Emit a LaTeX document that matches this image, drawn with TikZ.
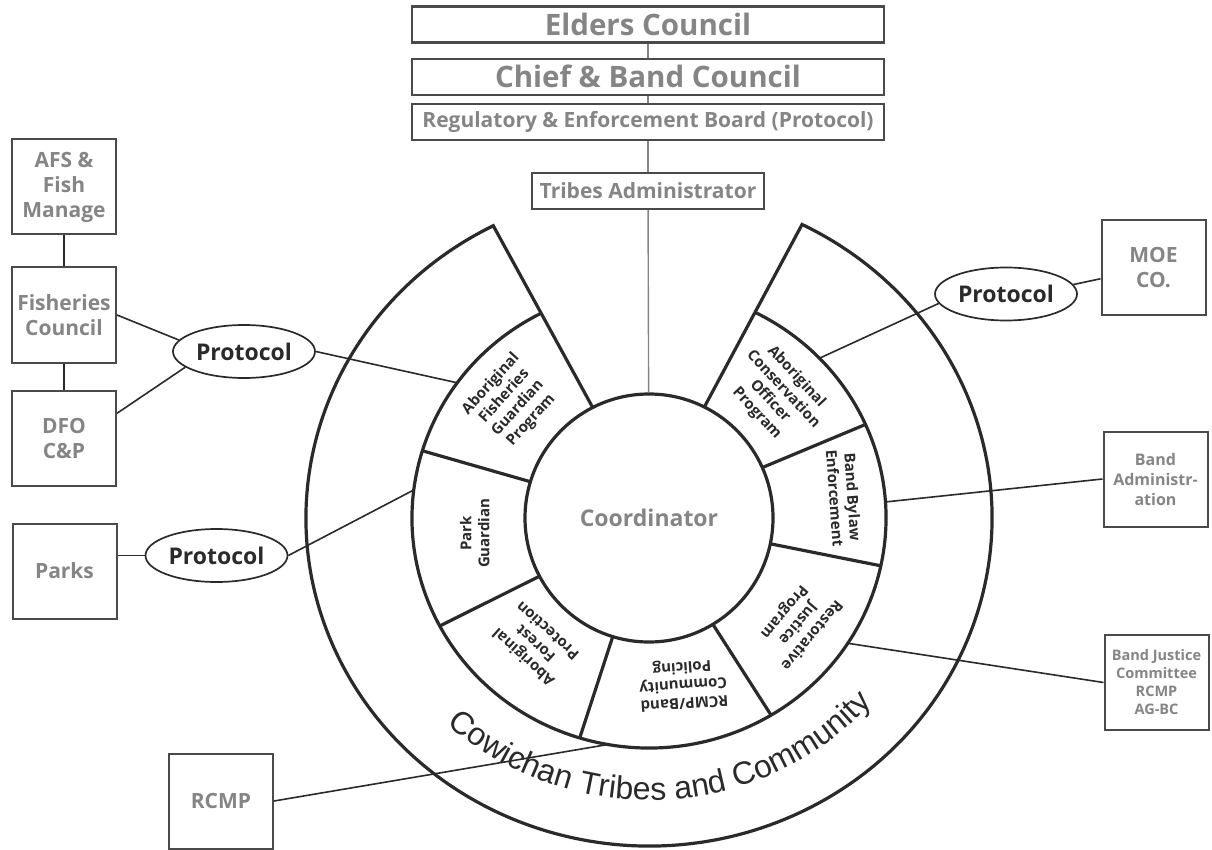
\documentclass[tikz,border=0pt]{standalone}
\usepackage{fontspec}
\setmainfont{Open Sans}
\newfontfamily\ringfont{Liberation Sans}
\usetikzlibrary{positioning,shapes.geometric,calc,decorations.text}

\definecolor{inkdark}{HTML}{2A2A2A}
\definecolor{inkgray}{HTML}{858585}
\definecolor{edgegray}{HTML}{4A4A4A}

\tikzset{
	topbox/.style={draw=edgegray,line width=2.2pt,text=inkgray,minimum width=472pt,minimum height=36pt,inner sep=0pt},
	sidebox/.style={draw=edgegray,line width=2pt,text=inkgray,align=center,minimum width=104pt,minimum height=95pt,inner sep=0pt,font=\bfseries\fontsize{21}{25}\selectfont},
	protocol/.style={ellipse,draw=inkdark,line width=1.7pt,text=inkdark,minimum width=142pt,minimum height=53pt,inner sep=0pt,font=\bfseries\fontsize{23}{26}\selectfont},
	link/.style={draw=inkdark,line width=1.6pt},
	stem/.style={draw=inkgray,line width=1.4pt},
	ring/.style={draw=inkdark,line width=3.2pt},
	seglabel/.style={text=inkdark,align=center,font=\bfseries\fontsize{15}{18}\selectfont}
}

\begin{document}
\begin{tikzpicture}[x=1pt,y=-1pt]
			\useasboundingbox (0,0) rectangle (1212,850);
			\fill[white] (0,0) rectangle (1212,850);
			\coordinate (c) at (649,518);

			% chain of councils
			\node[topbox,font=\bfseries\fontsize{29.5}{32}\selectfont] (elders) at (648,24.5) {Elders Council};
			\node[topbox,font=\bfseries\fontsize{29.5}{32}\selectfont,below=14pt of elders] (chief) {Chief \& Band Council};
			\node[topbox,font=\bfseries\fontsize{21}{24}\selectfont,below=7pt of chief] (board) {Regulatory \& Enforcement Board (Protocol)};
			\node[topbox,minimum width=232pt,font=\bfseries\fontsize{21}{24}\selectfont,below=31pt of board] (admin) {Tribes Administrator};

			% wheel
			\node[circle,draw=inkdark,line width=3.2pt,minimum size=248pt,inner sep=0pt,text=inkgray,font=\bfseries\fontsize{23}{26}\selectfont] (coord) at (c) {Coordinator};
			\draw[ring] ($(c)+(117:124pt)$) -- ($(c)+(117:343pt and 328pt)$) arc[start angle=117,end angle=423.5,x radius=343pt,y radius=328pt] -- ($(c)+(63.5:124pt)$);
			\draw[ring] ($(c)+(117:237pt and 230pt)$) arc[start angle=117,end angle=423.5,x radius=237pt,y radius=230pt];
			\foreach \a in {163,208,253,301,348,24}
				\draw[ring] ($(c)+(\a:124pt)$) -- ($(c)+(\a:237pt and 230pt)$);

			\node[seglabel,rotate=48] (fishguard) at ($(c)+(140:180pt)$) {Aboriginal\\Fisheries\\Guardian\\Program};
			\node[seglabel,rotate=90] (parkguard) at ($(c)+(185:175pt)$) {Park\\Guardian};
			\node[seglabel,rotate=138] (forest) at ($(c)+(228:170pt)$) {Aboriginal\\Forest\\Protection};
			\node[seglabel,rotate=184] (policing) at ($(c)+(281.6:170pt)$) {RCMP/Band\\Community\\Policing};
			\node[seglabel,rotate=230] (restore) at ($(c)+(324.7:182pt)$) {Restorative\\Justice\\Program};
			\node[seglabel,rotate=-86] (bylaw) at ($(c)+(6:196pt)$) {Band Bylaw\\Enforcement};
			\node[seglabel,rotate=-47] (conserve) at ($(c)+(43.9:177pt)$) {Aboriginal\\Conservation\\Officer\\Program};

			\path[decorate,decoration={text along path,text align=center,text color=inkdark,
				text={|\ringfont\fontsize{32}{36}\selectfont|Cowichan Tribes and Community}}]
				($(c)+(183:296pt and 282pt)$) arc[start angle=183,end angle=363,x radius=296pt,y radius=282pt];

			\coordinate (fishedge) at ($(c)+(144:237pt and 230pt)$);
			\coordinate (parkedge) at ($(c)+(173:237pt and 230pt)$);
			\coordinate (rcmpedge) at ($(c)+(260:237pt and 230pt)$);
			\coordinate (justedge) at ($(c)+(327:237pt and 230pt)$);
			\coordinate (bylawedge) at ($(c)+(4:237pt and 230pt)$);
			\coordinate (consedge) at ($(c)+(44:237pt and 230pt)$);

			% partners
			\node[sidebox] (afs) at (64,187) {AFS \&\\Fish\\Manage};
			\node[sidebox,below=31pt of afs] (fishcouncil) {Fisheries\\Council};
			\node[sidebox,below=26pt of fishcouncil] (dfo) {DFO\\C\&P};
			\node[sidebox] (parks) at (64.5,571) {Parks};
			\node[sidebox] (rcmp) at (221,801) {RCMP};
			\node[sidebox] (moe) at (1153.5,267.5) {MOE\\CO.};
			\node[sidebox,font=\bfseries\fontsize{16}{20}\selectfont] (bandadmin) at (1155.5,479) {Band\\Administr-\\ation};
			\node[sidebox,font=\bfseries\fontsize{14.5}{18}\selectfont] (justice) at (1156.5,682.5) {Band Justice\\Committee\\RCMP\\AG-BC};

			\node[protocol] (protfish) at (244,351.5) {Protocol};
			\node[protocol] (protpark) at (216.5,555.5) {Protocol};
			\node[protocol] (protmoe) at (1006,294) {Protocol};

			\draw[stem] (elders) -- (chief);
			\draw[stem] (chief) -- (board);
			\draw[stem] (board) -- (admin);
			\draw[stem] (admin) -- (coord);

			\draw[link] (afs) -- (fishcouncil);
			\draw[link] (fishcouncil) -- (dfo);
			\draw[link] (fishcouncil.east) -- (protfish.170);
			\draw[link] (dfo.25) -- (protfish.195);
			\draw[link] (protfish.east) -- (fishedge);
			\draw[link] (parks.east |- protpark.west) -- (protpark.west);
			\draw[link] (protpark.east) -- (parkedge);
			\draw[link] (rcmp.east) -- (rcmpedge);
			\draw[link] (protmoe.8) -- (moe.192);
			\draw[link] (consedge) -- (protmoe.188);
			\draw[link] (bylawedge) -- (bandadmin.west);
			\draw[link] (justedge) -- (justice.west);
\end{tikzpicture}
\end{document}
